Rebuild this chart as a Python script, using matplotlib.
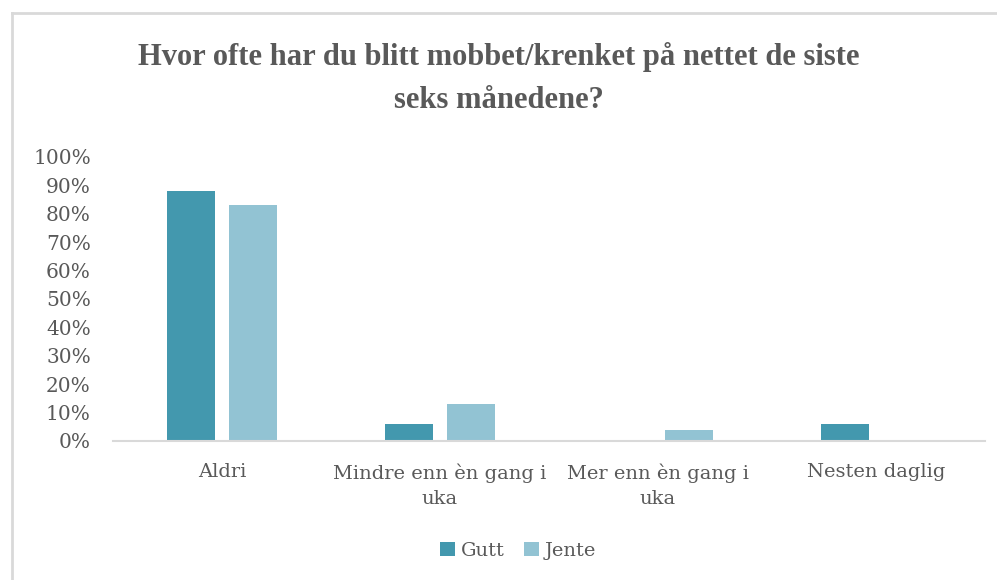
import numpy as np
import matplotlib.pyplot as plt
from matplotlib.lines import Line2D
from matplotlib.ticker import PercentFormatter

# Data
categories = ['Aldri', 'Mindre enn èn gang i\nuka', 'Mer enn èn gang i\nuka', 'Nesten daglig']
gutt = [88, 6, 0, 6]
jente = [83, 13, 4, 0]

plt.rcParams['font.family'] = ['DejaVu Serif']
text_color = '#595959'

fig = plt.figure(figsize=(9.97, 5.8), dpi=100)
W, H = 997, 580
ax = fig.add_axes([113 / W, 1 - 441 / H, 872 / W, 284 / H])

x = np.arange(len(categories))
width = 0.22
off = 0.143
ax.bar(x - off, gutt, width, color='#4398AE', label='Gutt')
ax.bar(x + off, jente, width, color='#92C3D3', label='Jente')

ax.set_xlim(-0.5, len(categories) - 0.5)
ax.set_ylim(0, 100)
ax.set_yticks(np.arange(0, 101, 10))
ax.yaxis.set_major_formatter(PercentFormatter(decimals=0))
ax.set_xticks(x)
ax.set_xticklabels(categories, fontsize=14, color=text_color, linespacing=1.55)
ax.tick_params(axis='y', labelsize=14.5, labelcolor=text_color, length=0, pad=16)
ax.tick_params(axis='x', length=0, pad=16)

for s in ['top', 'right', 'left']:
    ax.spines[s].set_visible(False)
ax.spines['bottom'].set_color('#d9d9d9')
ax.spines['bottom'].set_linewidth(1.5)

title_font = dict(family='Liberation Serif', fontsize=22, fontweight='bold', color=text_color,
                  ha='center', va='center')
fig.text(0.5, 1 - 57 / H, 'Hvor ofte har du blitt mobbet/krenket på nettet de siste', **title_font)
fig.text(0.5, 1 - 101 / H, 'seks månedene?', **title_font)

ax.legend(loc='center', bbox_to_anchor=(518 / W, 1 - 551 / H), bbox_transform=fig.transFigure,
          ncol=2, frameon=False, fontsize=14, labelcolor=text_color,
          handlelength=0.75, handleheight=0.75, handletextpad=0.3, columnspacing=1.0)

# chart border
fig.add_artist(Line2D([12 / W, 12 / W], [0, 1 - 13 / H], transform=fig.transFigure,
                      color='#d9d9d9', lw=2))
fig.add_artist(Line2D([12 / W, 1], [1 - 13 / H, 1 - 13 / H], transform=fig.transFigure,
                      color='#d9d9d9', lw=2))

fig.savefig('out.png', dpi=100)
